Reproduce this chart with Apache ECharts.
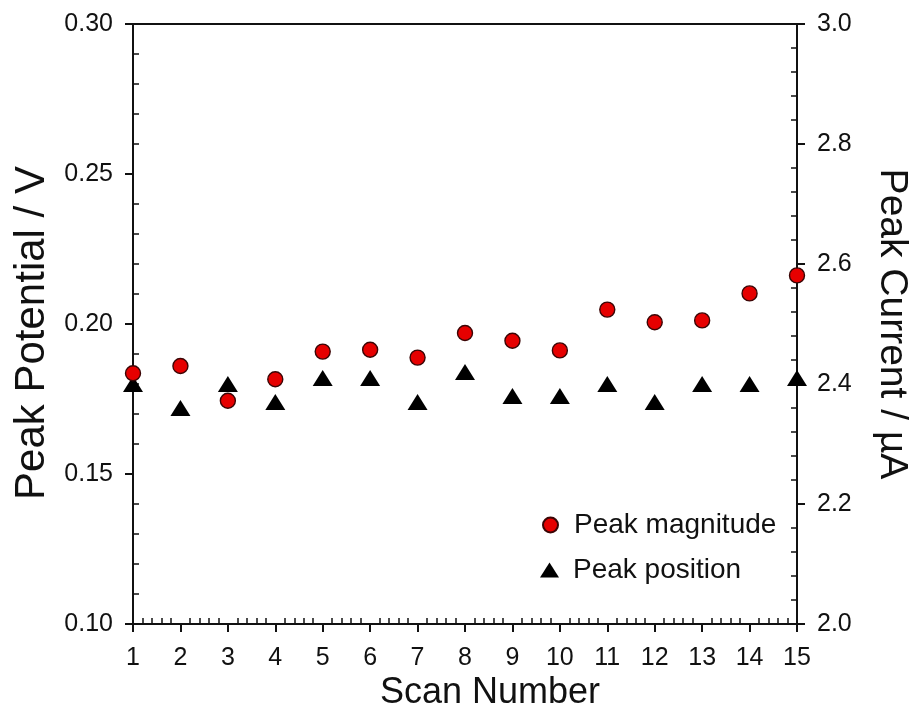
<!DOCTYPE html>
<html>
<head>
<meta charset="utf-8">
<script src="https://cdn.jsdelivr.net/npm/echarts@6/dist/echarts.min.js"></script>
<style>
  html, body { margin: 0; padding: 0; background: #fff; }
  #chart { width: 910px; height: 719px; }
</style>
</head>
<body>
<div id="chart"></div>
<script>
// Scan index on the horizontal axis
const scanNumbers = [1, 2, 3, 4, 5, 6, 7, 8, 9, 10, 11, 12, 13, 14, 15];
// Peak current (µA), right axis
const peakMagnitude = [2.418, 2.430, 2.372, 2.408, 2.454, 2.457, 2.444, 2.485, 2.472, 2.456, 2.524, 2.503, 2.506, 2.551, 2.581];
// Peak potential (V), left axis
const peakPosition = [0.180, 0.172, 0.180, 0.174, 0.182, 0.182, 0.174, 0.184, 0.176, 0.176, 0.180, 0.174, 0.180, 0.180, 0.182];

const FONT = '"Liberation Sans", Arial, Helvetica, sans-serif';
const INK = '#111';

const pairs = (xs, ys) => xs.map((x, i) => [x, ys[i]]);

const chart = echarts.init(document.getElementById('chart'), null, { renderer: 'canvas' });

const lineStyle = { color: INK, width: 2 };
const minorStyle = { color: INK, width: 1.5 };

chart.setOption({
  animation: false,
  backgroundColor: '#fff',
  textStyle: { fontFamily: FONT, color: INK },
  grid: { left: 133, right: 113, top: 24, bottom: 95, containLabel: false, outerBoundsMode: 'none' },
  legend: [
    {
      data: [{ name: 'Peak magnitude' }],
      left: 537, top: 506,
      itemWidth: 15, itemHeight: 15,
      textStyle: { fontFamily: FONT, fontSize: 28, color: INK, padding: [0, 0, 0, 11] },
      selectedMode: false
    },
    {
      data: [{ name: 'Peak position' }],
      left: 535, top: 551,
      itemWidth: 19, itemHeight: 15,
      textStyle: { fontFamily: FONT, fontSize: 28, color: INK, padding: [0, 0, 0, 9] },
      selectedMode: false
    }
  ],
  xAxis: [
    {
      type: 'value', position: 'bottom', min: 1, max: 15, interval: 1,
      name: 'Scan Number', nameLocation: 'middle', nameGap: 51, nameMoveOverlap: false,
      nameTextStyle: { fontFamily: FONT, fontSize: 36, color: INK, padding: [0, 0, 0, 50] },
      axisLine: { show: true, lineStyle },
      axisTick: { show: true, inside: false, length: 8, lineStyle },
      axisLabel: { fontFamily: FONT, fontSize: 25, color: INK, margin: 22 },
      splitLine: { show: false }
    },
    {
      // minor ticks pointing into the plot
      type: 'value', position: 'bottom', min: 1, max: 15, interval: 1,
      axisLine: { show: false },
      axisTick: { show: false, inside: true },
      minorTick: { show: true, splitNumber: 5, length: 6, lineStyle: minorStyle },
      axisLabel: { show: false },
      splitLine: { show: false }
    },
    {
      // top frame line
      type: 'value', position: 'top', min: 1, max: 15,
      axisLine: { show: true, lineStyle },
      axisTick: { show: false },
      axisLabel: { show: false },
      splitLine: { show: false }
    }
  ],
  yAxis: [
    {
      type: 'value', position: 'left', min: 0.10, max: 0.30, interval: 0.05,
      name: 'Peak Potential / V', nameLocation: 'middle', nameGap: 80, nameRotate: 90, nameMoveOverlap: false,
      nameTextStyle: { fontFamily: FONT, fontSize: 42, color: INK, padding: [0, 18, 0, 0] },
      axisLine: { show: true, lineStyle },
      axisTick: { show: true, inside: false, length: 8, lineStyle },
      axisLabel: { fontFamily: FONT, fontSize: 25, color: INK, margin: 20, formatter: v => v.toFixed(2) },
      splitLine: { show: false }
    },
    {
      type: 'value', position: 'right', min: 2.0, max: 3.0, interval: 0.2,
      name: 'Peak Current / µA', nameLocation: 'middle', nameGap: 75, nameRotate: -90, nameMoveOverlap: false,
      nameTextStyle: { fontFamily: FONT, fontSize: 39, color: INK },
      axisLine: { show: true, lineStyle },
      axisTick: { show: true, inside: false, length: 8, lineStyle },
      axisLabel: { fontFamily: FONT, fontSize: 25, color: INK, margin: 20, formatter: v => v.toFixed(1) },
      splitLine: { show: false }
    },
    {
      type: 'value', position: 'left', min: 0.10, max: 0.30, interval: 0.05,
      axisLine: { show: false },
      axisTick: { show: false, inside: true },
      minorTick: { show: true, splitNumber: 5, length: 6, lineStyle: minorStyle },
      axisLabel: { show: false },
      splitLine: { show: false }
    },
    {
      type: 'value', position: 'right', min: 2.0, max: 3.0, interval: 0.2,
      axisLine: { show: false },
      axisTick: { show: false, inside: true },
      minorTick: { show: true, splitNumber: 5, length: 6, lineStyle: minorStyle },
      axisLabel: { show: false },
      splitLine: { show: false }
    }
  ],
  series: [
    {
      name: 'Peak position',
      type: 'scatter',
      xAxisIndex: 0, yAxisIndex: 0,
      symbol: 'triangle', symbolSize: [20, 16],
      itemStyle: { color: '#000', borderWidth: 0, opacity: 1 },
      data: pairs(scanNumbers, peakPosition),
      z: 2
    },
    {
      name: 'Peak magnitude',
      type: 'scatter',
      xAxisIndex: 0, yAxisIndex: 1,
      symbol: 'circle', symbolSize: 15,
      itemStyle: { color: '#e60000', borderColor: '#3a0505', borderWidth: 1.4, opacity: 1 },
      data: pairs(scanNumbers, peakMagnitude),
      z: 3
    }
  ]
});
</script>
</body>
</html>
